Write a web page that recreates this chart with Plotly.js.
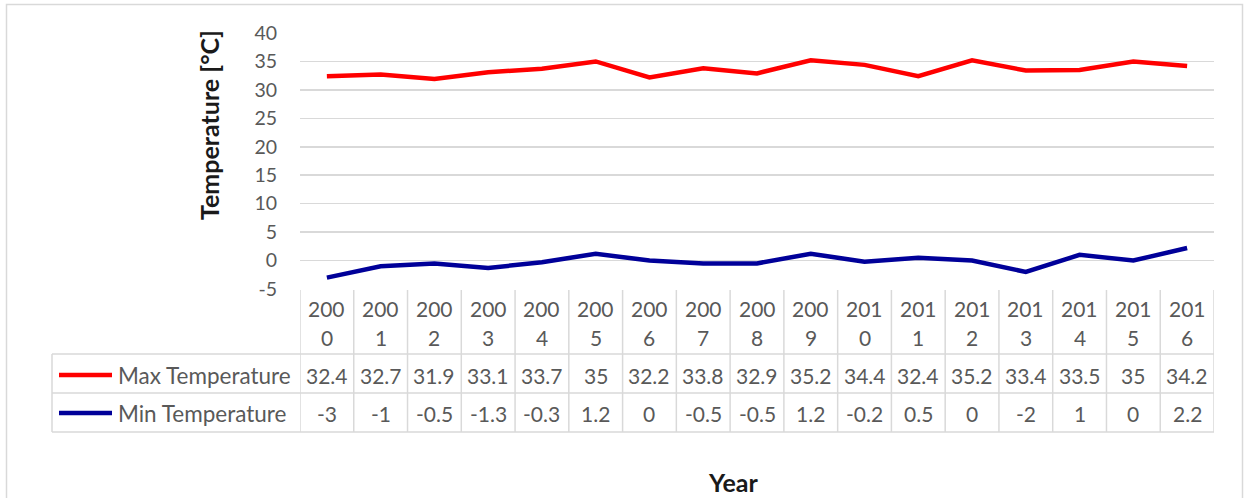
<!DOCTYPE html>
<html>
<head>
<meta charset="utf-8">
<script src="https://cdn.plot.ly/plotly-3.0.1.min.js"></script>
<style>html,body{margin:0;padding:0;background:#fff;}#chart{width:1244px;height:498px;}</style>
</head>
<body>
<div id="chart"></div>
<script>
// ---- data ----
const years = ['2000','2001','2002','2003','2004','2005','2006','2007','2008','2009','2010','2011','2012','2013','2014','2015','2016'];
const maxTemp = [32.4, 32.7, 31.9, 33.1, 33.7, 35, 32.2, 33.8, 32.9, 35.2, 34.4, 32.4, 35.2, 33.4, 33.5, 35, 34.2];
const minTemp = [-3, -1, -0.5, -1.3, -0.3, 1.2, 0, -0.5, -0.5, 1.2, -0.2, 0.5, 0, -2, 1, 0, 2.2];
const seriesNames = ['Max Temperature', 'Min Temperature'];
const yTicks = [-5, 0, 5, 10, 15, 20, 25, 30, 35, 40];
const yTitle = 'Temperature [°C]';
const xTitle = 'Year';

// ---- styling / layout helpers ----
const W = 1244, H = 498;
const L = 300, R = 30, T = 33, B = 209;
const plotW = W - L - R, plotH = H - T - B;
const px = p => (p - L) / plotW;        // pixel x -> paper x
const py = p => (H - B - p) / plotH;    // pixel y -> paper y
const colors = ['#ff0000', '#000099'];
const series = [maxTemp, minTemp];
const FONT = 'Lato, "Liberation Sans", sans-serif';
const grey = '#595959';
const gridC = '#d9d9d9';
const TBL = 21;

const traces = series.map((s, i) => ({
  type: 'scatter', mode: 'lines', x: years, y: s, name: seriesNames[i],
  line: {color: colors[i], width: 4.5}, hoverinfo: 'x+y'
}));

const shapes = [];
const annotations = [];
const line = (xref, x0, x1, yref, y0, y1, color, width) =>
  shapes.push({type: 'line', xref, yref, x0, x1, y0, y1, line: {color, width}, layer: 'above'});

// outer chart border
shapes.push({type: 'rect', xref: 'paper', yref: 'paper', x0: px(6.5), x1: px(1242.5), y0: py(4.5), y1: py(520),
  line: {color: gridC, width: 1.5}, layer: 'below'});

// table grid
const rowTop = 290, hdrBot = 354, row1Bot = 393, row2Bot = 432;
for (let k = 0; k <= years.length; k++) {
  line('x', k - 0.5, k - 0.5, 'paper', py(rowTop), py(row2Bot), gridC, 1.5);
}
line('paper', px(52), px(52), 'paper', py(hdrBot), py(row2Bot), gridC, 1.5);
[hdrBot, row1Bot, row2Bot].forEach(yy => line('paper', px(52), 1, 'paper', py(yy), py(yy), gridC, 1.5));

// header (years split into two lines like Excel wrapping)
years.forEach((yr, k) => {
  annotations.push({xref: 'x', yref: 'paper', x: k, y: py(308), text: yr.slice(0, 3), showarrow: false,
    xanchor: 'center', yanchor: 'middle', font: {family: FONT, size: TBL, color: grey}});
  annotations.push({xref: 'x', yref: 'paper', x: k, y: py(337), text: yr.slice(3), showarrow: false,
    xanchor: 'center', yanchor: 'middle', font: {family: FONT, size: TBL, color: grey}});
});

// value rows + legend keys
const rowCenters = [375, 413];
series.forEach((s, i) => {
  const yc = py(rowCenters[i]);
  line('paper', px(59), px(112), 'paper', yc, yc, colors[i], 4.5);
  annotations.push({xref: 'paper', yref: 'paper', x: px(116), y: yc, text: seriesNames[i], showarrow: false,
    xanchor: 'left', yanchor: 'middle', font: {family: FONT, size: 22.5, color: grey}});
  s.forEach((v, k) => {
    annotations.push({xref: 'x', yref: 'paper', x: k, y: yc, text: String(v), showarrow: false,
      xanchor: 'center', yanchor: 'middle', font: {family: FONT, size: TBL, color: grey}});
  });
});

// axis titles
annotations.push({xref: 'paper', yref: 'paper', x: px(209), y: py(125), text: '<b>' + yTitle + '</b>', textangle: -90,
  showarrow: false, xanchor: 'center', yanchor: 'middle', font: {family: FONT, size: 25, color: '#1a1a1a'}});
annotations.push({xref: 'paper', yref: 'paper', x: px(733), y: py(482), text: '<b>' + xTitle + '</b>',
  showarrow: false, xanchor: 'center', yanchor: 'middle', font: {family: FONT, size: 25, color: '#1a1a1a'}});

const layout = {
  width: W, height: H,
  margin: {l: L, r: R, t: T, b: B, pad: 0},
  paper_bgcolor: '#fff', plot_bgcolor: '#fff',
  showlegend: false,
  xaxis: {type: 'category', range: [-0.5, years.length - 0.5], showgrid: false, zeroline: false,
    showticklabels: false, ticks: '', showline: false, fixedrange: true},
  yaxis: {range: [-5, 40], tickmode: 'array', tickvals: yTicks, ticktext: yTicks.map(String),
    showgrid: true, gridcolor: gridC, gridwidth: 1.5,
    zeroline: false, showline: false, ticks: '', ticklabelstandoff: 22,
    tickfont: {family: FONT, size: 19.5, color: grey}, fixedrange: true},
  shapes, annotations,
  font: {family: FONT}
};

Plotly.newPlot('chart', traces, layout, {displayModeBar: false, staticPlot: true});
</script>
</body>
</html>
